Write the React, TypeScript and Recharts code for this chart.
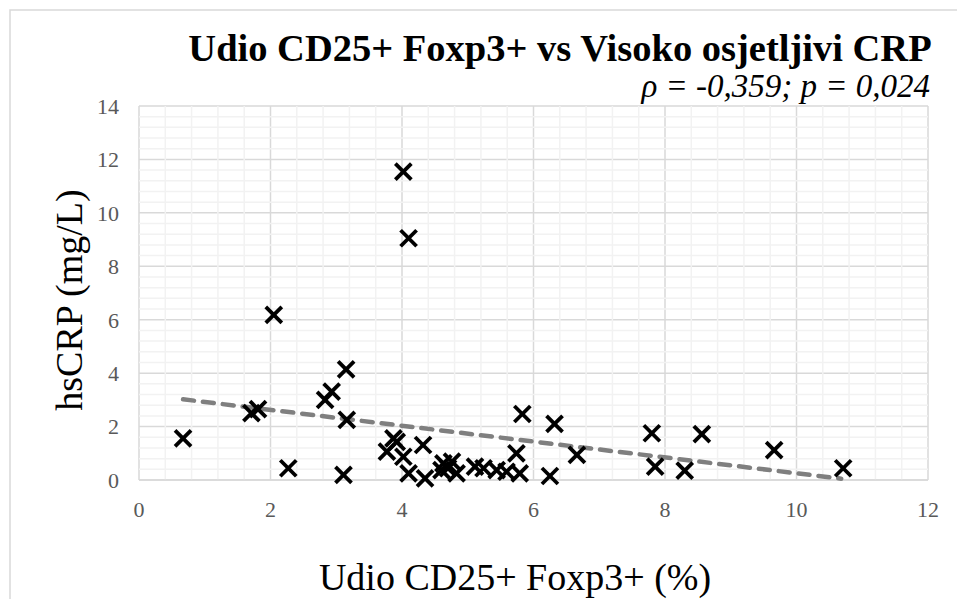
import React from "react";
import { ScatterChart, Scatter, XAxis, YAxis, CartesianGrid, ReferenceLine } from "recharts";

const tregX = [0.67, 1.71, 1.81, 2.05, 2.27, 2.83, 2.93, 3.15, 3.16, 3.11, 3.77, 3.87, 3.92, 4.02, 4.02, 4.10, 4.10, 4.32, 4.35, 4.60, 4.63, 4.70, 4.76, 4.83, 5.11, 5.24, 5.44, 5.59, 5.74, 5.79, 5.83, 6.25, 6.32, 6.66, 7.80, 7.85, 8.30, 8.56, 9.66, 10.71];
const crpY = [1.56, 2.50, 2.65, 6.18, 0.44, 3.00, 3.31, 4.14, 2.25, 0.19, 1.06, 1.56, 1.43, 11.54, 0.87, 9.05, 0.25, 1.31, 0.06, 0.37, 0.62, 0.44, 0.69, 0.25, 0.50, 0.44, 0.37, 0.31, 1.00, 0.25, 2.47, 0.15, 2.10, 0.94, 1.75, 0.50, 0.35, 1.72, 1.12, 0.44];
const trendX = [0.67, 10.68];
const trendY = [3.02, 0.05];
const xTicks = [0, 2, 4, 6, 8, 10, 12];
const yTicks = [0, 2, 4, 6, 8, 10, 12, 14];
const xMinor = [0.4, 0.8, 1.2, 1.6, 2.4, 2.8, 3.2, 3.6, 4.4, 4.8, 5.2, 5.6, 6.4, 6.8, 7.2, 7.6, 8.4, 8.8, 9.2, 9.6, 10.4, 10.8, 11.2, 11.6];
const yMinor = [0.4, 0.8, 1.2, 1.6, 2.4, 2.8, 3.2, 3.6, 4.4, 4.8, 5.2, 5.6, 6.4, 6.8, 7.2, 7.6, 8.4, 8.8, 9.2, 9.6, 10.4, 10.8, 11.2, 11.6, 12.4, 12.8, 13.2, 13.6];

const title = "Udio CD25+ Foxp3+ vs Visoko osjetljivi CRP";
const subtitle = "ρ = -0,359; p = 0,024";
const xLabel = "Udio CD25+ Foxp3+ (%)";
const yLabel = "hsCRP (mg/L)";

const points = tregX.map((x, i) => ({ x, y: crpY[i] }));
const trend = trendX.map((x, i) => ({ x, y: trendY[i] }));

const FONT = "Liberation Serif";

const Cross = (props: any) => {
  const { cx, cy } = props;
  if (cx == null || cy == null) return <g />;
  const r = 8;
  return (
    <g>
      <line x1={cx - r} y1={cy - r} x2={cx + r} y2={cy + r} stroke="#000" strokeWidth={3.8} />
      <line x1={cx - r} y1={cy + r} x2={cx + r} y2={cy - r} stroke="#000" strokeWidth={3.8} />
    </g>
  );
};

const NoShape = () => <g />;

export default function App() {
  return (
    <div style={{ position: "absolute", left: 0, top: 0, width: 957, height: 599, background: "#fff" }}>
      <ScatterChart width={957} height={599} margin={{ top: 106, right: 29, bottom: 0, left: 0 }}>
        {xMinor.map((v) => (
          <ReferenceLine key={"vx" + v} x={v} stroke="#f2f2f2" strokeWidth={1.5} ifOverflow="hidden" />
        ))}
        {yMinor.map((v) => (
          <ReferenceLine key={"hy" + v} y={v} stroke="#f2f2f2" strokeWidth={1.5} ifOverflow="hidden" />
        ))}
        <CartesianGrid stroke="#d9d9d9" strokeWidth={1.5} />
        <XAxis
          type="number"
          dataKey="x"
          domain={[0, 12]}
          ticks={xTicks}
          height={119}
          tickLine={false}
          axisLine={{ stroke: "#d9d9d9", strokeWidth: 1.5 }}
          tick={{ fill: "#595959", fontSize: 22, fontFamily: FONT }}
          tickMargin={15}
          interval={0}
        />
        <YAxis
          type="number"
          dataKey="y"
          domain={[0, 14]}
          ticks={yTicks}
          width={139}
          tickLine={false}
          axisLine={false}
          tick={{ fill: "#595959", fontSize: 22, fontFamily: FONT }}
          tickMargin={14}
          interval={0}
        />
        <Scatter data={trend} line={{ stroke: "#7f7f7f", strokeWidth: 4.5, strokeDasharray: "11 9", strokeLinecap: "round" }} shape={NoShape} isAnimationActive={false} />
        <Scatter data={points} shape={Cross} isAnimationActive={false} />
      </ScatterChart>
      <svg width={957} height={599} style={{ position: "absolute", left: 0, top: 0, pointerEvents: "none" }}>
        <rect x={10} y={10} width={960} height={600} fill="none" stroke="#d9d9d9" strokeWidth={1.5} />
        <text x={560} y={61} textAnchor="middle" fontFamily={FONT} fontWeight="bold" fontSize={38.5} fill="#000">{title}</text>
        <text x={930} y={97} textAnchor="end" fontFamily={FONT} fontStyle="italic" fontSize={33} fill="#000">{subtitle}</text>
        <text x={515} y={590} textAnchor="middle" fontFamily={FONT} fontSize={38} fill="#000">{xLabel}</text>
        <text transform="translate(82,300) rotate(-90)" textAnchor="middle" fontFamily={FONT} fontSize={38} fill="#000">{yLabel}</text>
      </svg>
    </div>
  );
}
